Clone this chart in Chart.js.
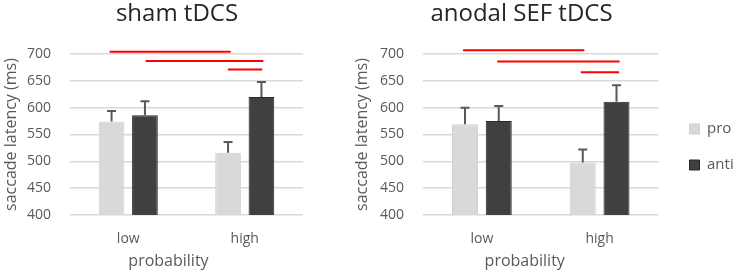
<!DOCTYPE html>
<html>
<head>
<meta charset="utf-8">
<script src="https://cdn.jsdelivr.net/npm/chart.js@4.4.1/dist/chart.umd.min.js"></script>
<style>
  html, body { margin: 0; padding: 0; background: #fff; overflow: hidden; }
  .box { position: absolute; top: 0; height: 273px; }
  #left { left: 0; width: 354px; }
  #right { left: 301px; width: 441px; }
</style>
</head>
<body>
<div class="box" id="left"><canvas id="shamChart"></canvas></div>
<div class="box" id="right"><canvas id="sefChart"></canvas></div>
<script>
// categories / legend
const categories = ['low', 'high'];
const seriesNames = ['pro', 'anti'];

// sham tDCS (ms), error = length of the upper error bar
const shamPro = [574, 516];
const shamProErr = [20, 20];
const shamAnti = [586, 620];
const shamAntiErr = [26, 28];

// anodal SEF tDCS
const sefPro = [569, 498];
const sefProErr = [31, 24];
const sefAnti = [575, 611];
const sefAntiErr = [28, 31];

// significance lines: y value, from/to in category units (0 = low, 1 = high)
const shamSigY = [704, 687, 671];
const shamSigFrom = [-0.16, 0.15, 0.855];
const shamSigTo = [0.88, 1.16, 1.15];
const sefSigY = [707, 686, 666];
const sefSigFrom = [-0.16, 0.13, 0.84];
const sefSigTo = [0.87, 1.17, 1.165];

const yMin = 400, yMax = 700, yStep = 50;

const FONT = '"Open Sans", "DejaVu Sans", sans-serif';
const TEXT = '#595959';

// error bars (upwards only, with a cap)
const errorBars = {
    id: 'errorBars',
    afterDatasetsDraw(chart) {
        const ctx = chart.ctx;
        const y = chart.scales.y;
        chart.data.datasets.forEach((ds, di) => {
            if (!ds.errors) return;
            const meta = chart.getDatasetMeta(di);
            meta.data.forEach((bar, i) => {
                const top = y.getPixelForValue(meta.controller.getParsed(i).y + ds.errors[i]);
                ctx.save();
                ctx.strokeStyle = '#595959';
                ctx.lineWidth = 2;
                ctx.beginPath();
                ctx.moveTo(bar.x, bar.y);
                ctx.lineTo(bar.x, top);
                ctx.moveTo(bar.x - 4.5, top);
                ctx.lineTo(bar.x + 4.5, top);
                ctx.stroke();
                ctx.restore();
            });
        });
    }
};

// x axis title, sits a bit left of the plot centre like in the original
const xTitle = {
    id: 'xTitle',
    afterDraw(chart, args, opts) {
        const {ctx, chartArea} = chart;
        ctx.save();
        ctx.font = '16px ' + FONT;
        ctx.fillStyle = TEXT;
        ctx.textAlign = 'center';
        ctx.textBaseline = 'middle';
        ctx.fillText(opts.text, (chartArea.left + chartArea.right) / 2 + opts.shift, chart.height - 12);
        ctx.restore();
    }
};

function buildChart(id, c) {
    const sigLines = c.sigY.map((v, i) => ({
        type: 'line',
        data: [{x: c.sigFrom[i], y: v}, {x: c.sigTo[i], y: v}],
        borderColor: '#ff0000',
        borderWidth: 2,
        pointRadius: 0,
        clip: false
    }));

    const bar = (name, vals, errs, fill, border) => ({
        label: name,
        data: vals.map((v, i) => ({x: i, y: v})),
        errors: errs,
        backgroundColor: fill,
        borderColor: border,
        borderWidth: 1,
        categoryPercentage: 0.573,
        barPercentage: 0.77
    });

    return new Chart(document.getElementById(id), {
        type: 'bar',
        data: {
            datasets: [
                bar(seriesNames[0], c.pro, c.proErr, '#d9d9d9', '#d0d0d0'),
                bar(seriesNames[1], c.anti, c.antiErr, '#404040', '#262626')
            ].concat(sigLines)
        },
        options: {
            responsive: true,
            maintainAspectRatio: false,
            animation: false,
            layout: { padding: 0 },
            scales: {
                // linear so the significance lines can sit between categories
                x: {
                    type: 'linear', min: -0.5, max: 1.5, offset: false,
                    grid: { display: false },
                    border: { display: false },
                    afterBuildTicks: s => { s.ticks = categories.map((name, i) => ({ value: i })); },
                    ticks: {
                        callback: v => categories[v],
                        autoSkip: false, maxRotation: 0,
                        color: TEXT, font: { family: FONT, size: 14 }, padding: 8
                    },
                    afterFit: s => { s.height = 58; }
                },
                y: {
                    min: yMin, max: yMax,
                    grid: { color: '#d9d9d9', lineWidth: 1.5, drawTicks: false },
                    border: { display: false },
                    ticks: { stepSize: yStep, color: TEXT, font: { family: FONT, size: 14 }, padding: 19 },
                    title: {
                        display: true, text: 'saccade latency (ms)', color: TEXT,
                        font: { family: FONT, size: 16 }, padding: { top: c.yTitlePad, bottom: 0 }
                    },
                    afterFit: s => { s.width = c.yWidth; }
                },
                // empty axis on the right, keeps space between plot and legend / edge
                gap: {
                    type: 'linear', axis: 'y', position: 'right', display: true,
                    grid: { display: false }, border: { display: false }, ticks: { display: false },
                    afterFit: s => { s.width = c.gapWidth; }
                }
            },
            plugins: {
                title: {
                    display: true, text: c.title, color: '#262626',
                    font: { family: FONT, size: 24, weight: 'normal' },
                    padding: { top: 0, bottom: 25.2 }
                },
                legend: {
                    display: c.legend,
                    position: 'right',
                    title: { display: true, text: '', font: { size: 10 }, padding: 4.5 },
                    labels: {
                        boxWidth: 10, boxHeight: 10, padding: 21,
                        color: TEXT, font: { family: FONT, size: 15 },
                        filter: item => item.datasetIndex < 2
                    }
                },
                tooltip: { enabled: false },
                xTitle: { text: 'probability', shift: c.xShift }
            }
        },
        plugins: [errorBars, xTitle]
    });
}

buildChart('shamChart', {
    title: 'sham tDCS',
    pro: shamPro, proErr: shamProErr, anti: shamAnti, antiErr: shamAntiErr,
    sigY: shamSigY, sigFrom: shamSigFrom, sigTo: shamSigTo,
    yWidth: 70, yTitlePad: 1.5, gapWidth: 51, legend: false, xShift: -18
});

buildChart('sefChart', {
    title: 'anodal SEF tDCS',
    pro: sefPro, proErr: sefProErr, anti: sefAnti, antiErr: sefAntiErr,
    sigY: sefSigY, sigFrom: sefSigFrom, sigTo: sefSigTo,
    yWidth: 122, yTitlePad: 52, gapWidth: 10, legend: true, xShift: -16
});
</script>
</body>
</html>
